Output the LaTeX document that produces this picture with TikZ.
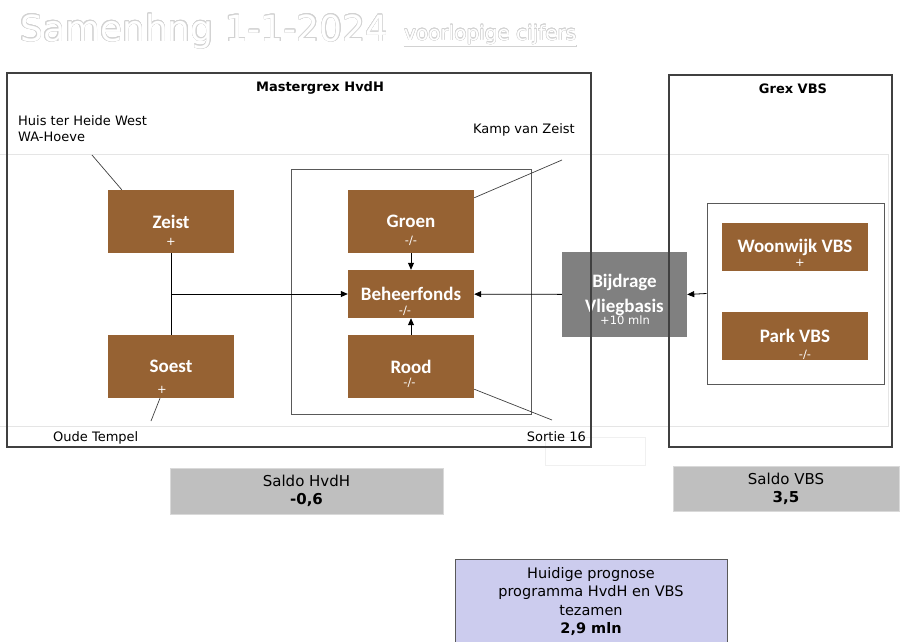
\documentclass[tikz,border=0pt]{standalone}
\usepackage{fontspec}
\setmainfont{DejaVu Sans}
\newfontfamily\calibri{Carlito}
\usepackage{contour}
\usetikzlibrary{
    arrows.meta,
    positioning,
    calc
}
\definecolor{boxbrown}{RGB}{150, 98, 51}
\definecolor{framegray}{RGB}{64, 64, 64}
\definecolor{groupgray}{RGB}{89, 89, 89}
\definecolor{prognoselilac}{RGB}{204, 204, 238}
\contourlength{0.4pt}
\tikzstyle{brownbox} = [
    rectangle,
    fill=boxbrown,
    text=white,
    inner sep=0pt,
    font=\calibri\bfseries\fontsize{19}{21}\selectfont
]
\tikzstyle{arrow} = [
    -{Triangle[length=7pt,width=6pt]},
    line width=0.8pt
]

\begin{document}
\begin{tikzpicture}[
    x=1pt, y=-1pt,
    frame/.style={rectangle, draw=framegray, line width=1.2pt, inner sep=0pt},
    group/.style={rectangle, draw=groupgray, line width=1pt, inner sep=0pt},
    sign/.style={text=white, font=\fontsize{11.5}{13}\selectfont, inner sep=0pt},
    note/.style={font=\fontsize{13}{16}\selectfont, inner sep=0pt},
    heading/.style={font=\bfseries\fontsize{13}{15}\selectfont, inner sep=0pt},
    saldo/.style={rectangle, draw=gray!30, fill=gray!50, align=center, font=\fontsize{15}{18}\selectfont},
    faint/.style={draw=gray!20, line width=0.8pt},
    pointer/.style={draw=framegray, line width=0.7pt}
]
    \useasboundingbox (0,0) rectangle (903,641);

    % Title
    \node[anchor=base west, inner sep=0pt, text=white, font=\fontsize{36}{40}\selectfont] (title) at (20,41) {\contour{gray!35}{Samenhng 1-1-2024}};
    \node[anchor=base west, inner sep=0pt, text=white, font=\fontsize{20}{22}\selectfont] (subtitle) at (404,40) {\contour{gray!35}{\underline{voorlopige cijfers}}};

    % Faint lines
    \draw[faint] (-2,154) -- (888,154) -- (888,426) -- (-2,426);
    \draw[faint, draw=gray!12] (545,437) rectangle (645,465);

    % Bijdrage
    \node[rectangle, fill=gray, text=white, inner sep=0pt, align=center, minimum width=125pt, minimum height=85pt,
          font=\calibri\bfseries\fontsize{19}{25}\selectfont] (bijdrage) at (624.5,294.5) {Bijdrage\\Vliegbasis};
    \node[sign, anchor=base, font=\fontsize{11.5}{13}\selectfont] (bijdragesign) at (625,324.5) {+10 mln};

    % Frames
    \node[frame, minimum width=584pt, minimum height=374pt] (hvdh) at (299,260) {};
    \node[heading] (hvdhtitle) at (320,88) {Mastergrex HvdH};
    \node[frame, minimum width=223pt, minimum height=372pt] (vbs) at (780.5,261) {};
    \node[heading] (vbstitle) at (793,89) {Grex VBS};

    % Labels
    \node[note, anchor=north west, align=left] (hhw) at (18,115) {Huis ter Heide West\\WA-Hoeve};
    \node[note, anchor=base east] (kamp) at (575,133) {Kamp van Zeist};
    \node[note, anchor=base west] (oude) at (53,441) {Oude Tempel};
    \node[note, anchor=base east] (sortie) at (586,441) {Sortie 16};

    % Zeist and Soest
    \node[brownbox, minimum width=126pt, minimum height=63pt] (zeist) at (171,221.5) {Zeist};
    \node[sign] (zeistsign) at (171,242) {+};
    \node[brownbox, minimum width=126pt, minimum height=63pt] (soest) at (171,366.5) {Soest};
    \node[sign] (soestsign) at (162,390) {+};

    % Beheerfonds group
    \node[group, minimum width=240pt, minimum height=245pt] (fonds) at (411,291.5) {};
    \node[brownbox, minimum width=126pt, minimum height=63pt] (groen) at (411,221.5) {Groen};
    \node[sign] (groensign) at (411,241) {-/-};
    \node[brownbox, minimum width=126pt, minimum height=48pt] (beheer) at (411,294) {Beheerfonds};
    \node[sign] (beheersign) at (405,311) {-/-};
    \node[brownbox, minimum width=126pt, minimum height=63pt] (rood) at (411,366.5) {Rood};
    \node[sign] (roodsign) at (409.5,383) {-/-};

    % VBS group
    \node[group, minimum width=177pt, minimum height=181pt] (vbsgroup) at (795.5,293.5) {};
    \node[brownbox, minimum width=146pt, minimum height=48pt] (woonwijk) at (795,247) {Woonwijk VBS};
    \node[sign] (woonwijksign) at (800,263) {+};
    \node[brownbox, minimum width=146pt, minimum height=48pt] (park) at (795,336) {Park VBS};
    \node[sign] (parksign) at (805,355) {-/-};

    % Saldi
    \node[saldo, minimum width=273pt, minimum height=46pt] (saldohvdh) at (306.5,491) {Saldo HvdH\\\textbf{-0,6}};
    \node[saldo, minimum width=226pt, minimum height=45pt] (saldovbs) at (786,488.5) {Saldo VBS\\\textbf{3,5}};
    \node[rectangle, draw=groupgray, fill=prognoselilac, align=center, minimum width=272pt, minimum height=85pt,
          font=\fontsize{14.5}{18.5}\selectfont] (prognose) at (591,601.5) {Huidige prognose\\programma HvdH en VBS\\tezamen\\\textbf{2,9 mln}};

    % Pointers
    \coordinate (hhwend) at (92,155);
    \coordinate (kampend) at (562,160);
    \coordinate (oudeend) at (151,421);
    \coordinate (sortieend) at (552,420);
    \draw[pointer] (hhwend) -- ([xshift=14pt]zeist.north west);
    \draw[pointer] (kampend) -- ([yshift=-8pt]groen.north east);
    \draw[pointer] (oudeend) -- ([xshift=-11pt]soest.south);
    \draw[pointer] (sortieend) -- ([yshift=9pt]rood.south east);

    % Arrows
    \draw[line width=0.8pt] (zeist.south) -- (soest.north);
    \draw[arrow] (zeist.south |- beheer.west) -- (beheer.west);
    \draw[arrow] (groen) -- (beheer);
    \draw[arrow] (rood) -- (beheer);
    \draw[arrow] (bijdrage) -- (beheer);
    \draw[arrow] (vbsgroup.west) -- (bijdrage.east);

\end{tikzpicture}
\end{document}
